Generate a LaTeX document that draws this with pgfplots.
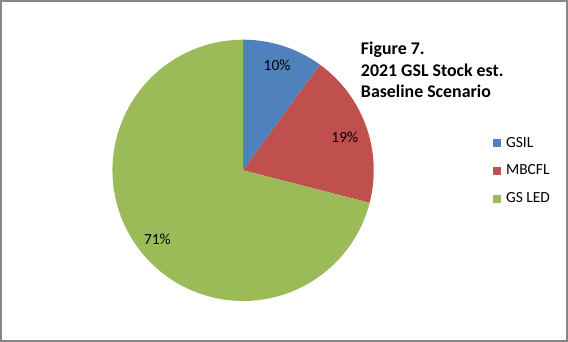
\documentclass[border=0pt]{standalone}
\usepackage{pgfplots}
\usepackage{pgfplotstable}
\pgfplotsset{compat=1.18}
\usepackage{fontspec}
\setmainfont{Carlito}
\definecolor{gsil}{HTML}{4F81BD}
\definecolor{mbcfl}{HTML}{C0504D}
\definecolor{gsled}{HTML}{9BBB59}
\definecolor{frame}{HTML}{878787}
\pgfplotstableread{
value color
10 gsil
19 mbcfl
71 gsled
}\piedata
\begin{document}
\begin{tikzpicture}
\begin{axis}[
  scale only axis, width=568pt, height=341pt,
  xmin=0, xmax=568, ymin=0, ymax=341,
  ticks=none,
  axis line style={draw=frame, line width=1.6pt},
  clip=false,
]
\def\cum{0}
\pgfplotsforeachungrouped \i in {0,1,2} {
  \pgfplotstablegetelem{\i}{value}\of\piedata \let\v\pgfplotsretval
  \pgfplotstablegetelem{\i}{color}\of\piedata \let\c\pgfplotsretval
  \pgfmathsetmacro\sa{90-3.6*\cum}
  \pgfmathsetmacro\ea{90-3.6*(\cum+\v)}
  \pgfmathsetmacro\sx{243+131*cos(\sa)}
  \pgfmathsetmacro\sy{171+131*sin(\sa)}
  \edef\tmp{\noexpand\fill[fill=\c] (axis cs:243,171) -- (axis cs:\sx,\sy) arc[start angle=\sa, end angle=\ea, radius=131pt] -- cycle;}
  \tmp
  \pgfmathsetmacro\cum{\cum+\v}
}
\node[font=\fontsize{15.5}{18}\selectfont] at (axis cs:277,276) {10\%};
\node[font=\fontsize{15.5}{18}\selectfont] at (axis cs:345,204) {19\%};
\node[font=\fontsize{15.5}{18}\selectfont] at (axis cs:157,102) {71\%};
\node[font=\fontsize{17.9}{20}\selectfont\bfseries, anchor=base west, inner sep=0pt] at (axis cs:361,287) {Figure 7.};
\node[font=\fontsize{17.9}{20}\selectfont\bfseries, anchor=base west, inner sep=0pt] at (axis cs:361,265.5) {2021 GSL Stock est.};
\node[font=\fontsize{17.9}{20}\selectfont\bfseries, anchor=base west, inner sep=0pt] at (axis cs:361,244) {Baseline Scenario};
\fill[gsil] (axis cs:494,194) rectangle (axis cs:502,202);
\fill[mbcfl] (axis cs:494,166) rectangle (axis cs:502,174);
\fill[gsled] (axis cs:494,138) rectangle (axis cs:502,146);
\node[font=\fontsize{15.5}{18}\selectfont, anchor=base west, inner sep=0pt] at (axis cs:506.5,194.3) {GSIL};
\node[font=\fontsize{15.5}{18}\selectfont, anchor=base west, inner sep=0pt] at (axis cs:506.5,166.7) {MBCFL};
\node[font=\fontsize{15.5}{18}\selectfont, anchor=base west, inner sep=0pt] at (axis cs:506.5,138.3) {GS LED};
\end{axis}
\end{tikzpicture}
\end{document}
